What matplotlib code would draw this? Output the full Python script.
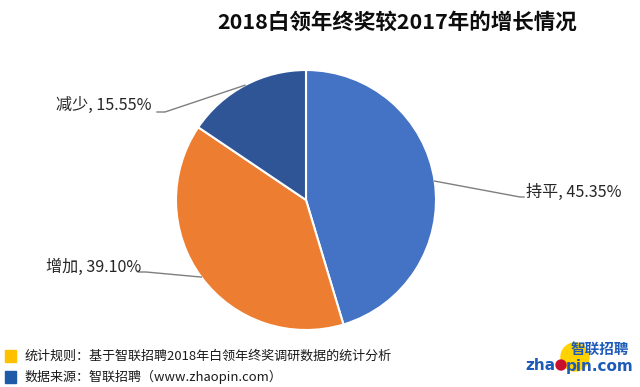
import numpy as np
import matplotlib
matplotlib.use("Agg")
import matplotlib.pyplot as plt
from matplotlib.patches import Circle, Rectangle

plt.rcParams['font.family'] = ['Noto Sans CJK SC', 'DejaVu Sans']

W, H = 640, 387

TITLE = "2018白领年终奖较2017年的增长情况"
CATEGORIES = ["持平", "增加", "减少"]
VALUES = [45.35, 39.10, 15.55]
COLORS = ["#4472C4", "#ED7D31", "#2F5597"]
NOTES = ["统计规则：基于智联招聘2018年白领年终奖调研数据的统计分析",
         "数据来源：智联招聘（www.zhaopin.com）"]
NOTE_COLORS = ["#FFC000", "#1F5AA8"]


def fx(x):
    return x / W


def fy(y):
    return 1 - y / H


fig = plt.figure(figsize=(W / 100, H / 100), dpi=100)

# 饼图: 中心 (306, 200), 半径 130 px
cx, cy, r = 306, 200, 130
ax = fig.add_axes([fx(cx - r), fy(cy + r), 2 * r / W, 2 * r / H])
wedges, _ = ax.pie(VALUES, colors=COLORS, startangle=90, counterclock=False,
                   radius=1.0, wedgeprops=dict(edgecolor="white", linewidth=1.5))
ax.set_xlim(-1, 1)
ax.set_ylim(-1, 1)
ax.set_aspect("auto")
ax.axis("off")

# 标签位置 (文字 x, 中心 y, 引线拐点) 以像素计
label_pos = {
    "持平": dict(tx=526, ty=192, ha="left", knee=(520, 197)),
    "增加": dict(tx=141, ty=267, ha="right", knee=(146, 272)),
    "减少": dict(tx=152, ty=105, ha="right", knee=(165, 112)),
}

for w, name, v in zip(wedges, CATEGORIES, VALUES):
    ang = np.deg2rad((w.theta1 + w.theta2) / 2)
    ex, ey = cx + r * np.cos(ang), cy - r * np.sin(ang)
    p = label_pos[name]
    kx, ky = p["knee"]
    if p["ha"] == "left":
        xs = [ex, kx, kx + 4]
    else:
        xs = [ex, kx, kx - 8]
    ys = [ey, ky, ky]
    fig.add_artist(plt.Line2D([fx(x) for x in xs], [fy(y) for y in ys],
                              color="#7F7F7F", linewidth=1.0))
    fig.text(fx(p["tx"]), fy(p["ty"]), f"{name}, {v:.2f}%", ha=p["ha"], va="center",
             fontsize=11.6, color="#262626")

fig.text(fx(397), fy(22), TITLE, ha="center", va="center", fontsize=15.5,
         fontweight="bold", color="#0D0D0D")

# 底部注释
for i, (note, c) in enumerate(zip(NOTES, NOTE_COLORS)):
    y = 356 + i * 21
    fig.add_artist(Rectangle((fx(5), fy(y + 6)), 11 / W, 12 / H, color=c,
                             transform=fig.transFigure))
    fig.text(fx(25), fy(y), note, ha="left", va="center", fontsize=9.4, color="#1A1A1A")

# logo (像素坐标的小 axes)
lx0, lx1, ly0, ly1 = 520, 640, 335, 387
lax = fig.add_axes([fx(lx0), fy(ly1), (lx1 - lx0) / W, (ly1 - ly0) / H])
lax.set_xlim(lx0, lx1)
lax.set_ylim(ly1, ly0)
lax.axis("off")
lax.add_patch(Circle((575, 357), 14, color="#FFD200"))
lax.text(629, 349, "智联招聘", ha="right", va="center", fontsize=10.5,
         fontweight="bold", style="italic", color="#1E5BB8")
lax.text(556, 366, "zha", ha="right", va="center", fontsize=11,
         fontweight="bold", color="#1E5BB8", family=["DejaVu Sans"])
lax.add_patch(Circle((561, 365), 5, color="#C8102E"))
lax.text(566, 366, "pin.com", ha="left", va="center", fontsize=11,
         fontweight="bold", color="#1E5BB8", family=["DejaVu Sans"])

fig.savefig("out.png", dpi=100, facecolor="white")
